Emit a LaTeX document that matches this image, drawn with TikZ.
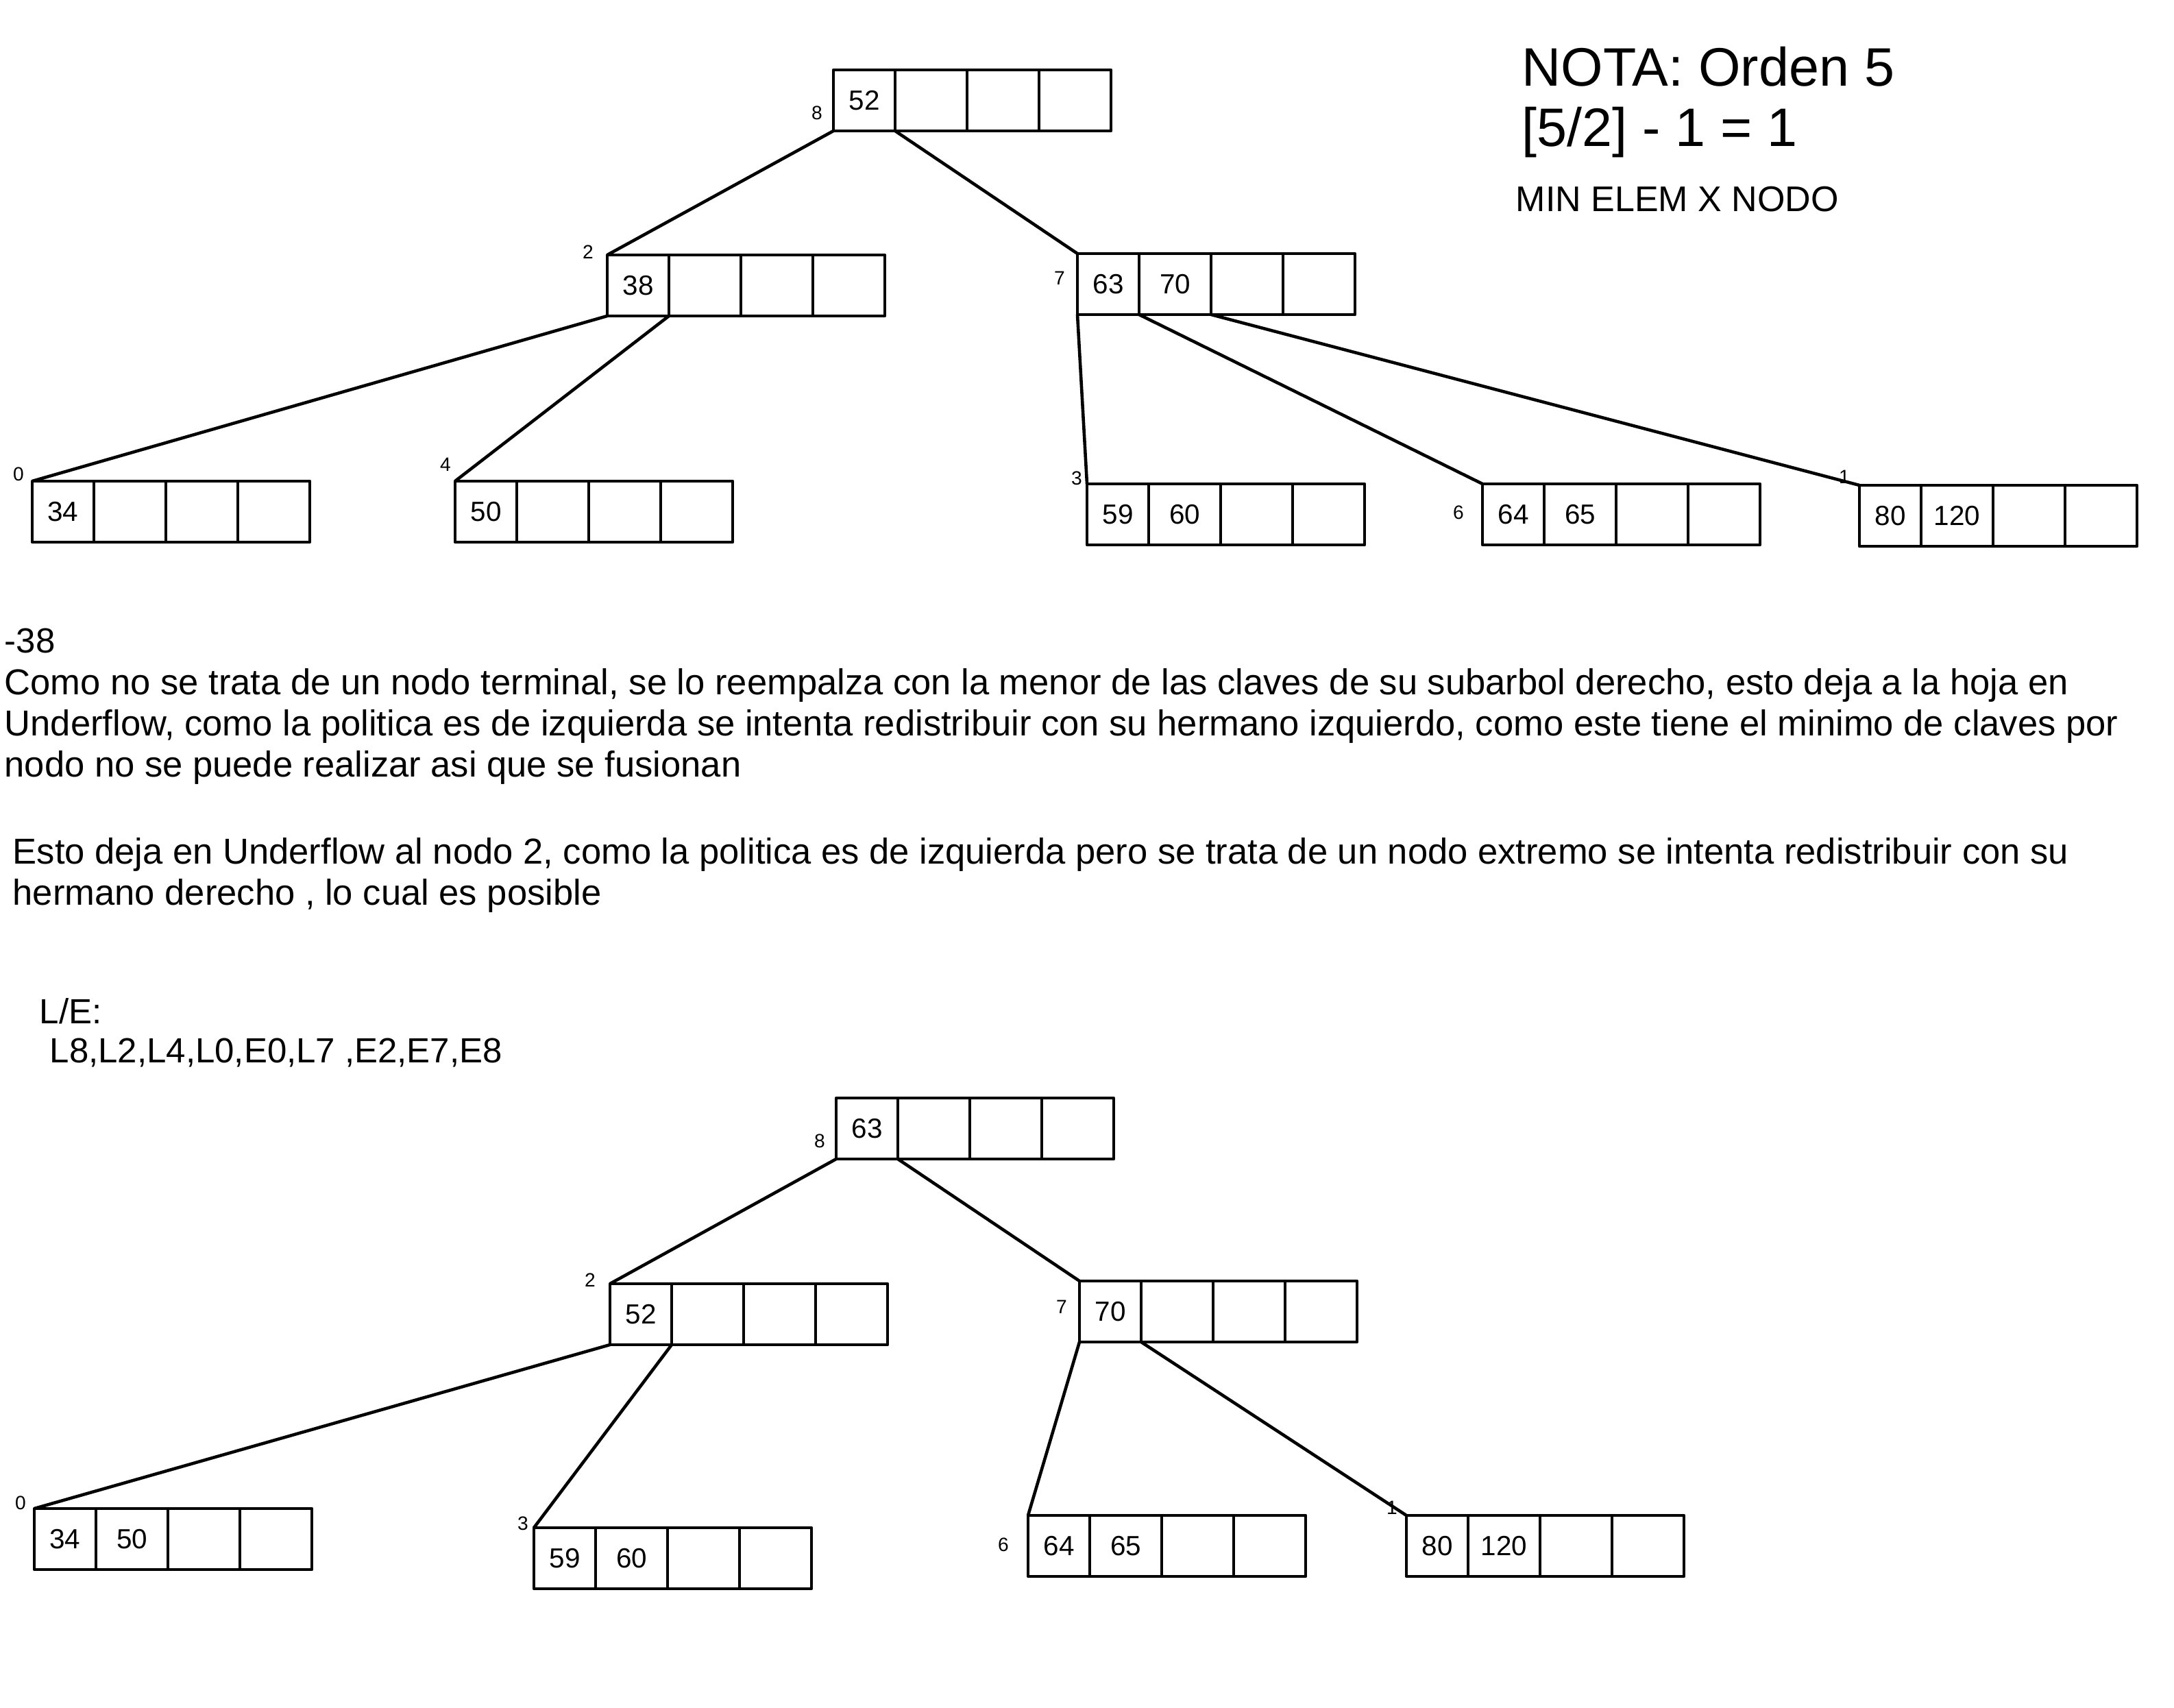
\documentclass[tikz,border=0pt]{standalone}
\usepackage{fontspec}
\setmainfont{Liberation Sans}
\usetikzlibrary{calc}
\usetikzlibrary{positioning}
\tikzset{celda/.style={draw,line width=1.3pt,minimum height=0.89cm,inner sep=0pt,outer sep=0pt,font=\fontsize{11.5}{13}\selectfont},
  etiq/.style={inner sep=0pt,font=\fontsize{8}{9}\selectfont},
  rama/.style={line width=1.3pt},
  texto/.style={anchor=base west,inner sep=0pt,font=\fontsize{14.5}{17.07}\selectfont},
  parrafo/.style={anchor=north west,align=left,inner sep=0pt,font=\fontsize{14.95}{17.07}\selectfont}}
% nodo del arbol B: nombre, esquina, desplazamiento de la etiqueta, etiqueta, claves
\newcommand{\bnodo}[6]{%
  \node[celda,minimum width=0.9cm,anchor=north west] (#1-1) at (#2) {#5};
  \node[celda,minimum width=1.05cm,right=0pt of #1-1] (#1-2) {#6};
  \node[celda,minimum width=1.05cm,right=0pt of #1-2] (#1-3) {};
  \node[celda,minimum width=1.05cm,right=0pt of #1-3] (#1-4) {};
  \node[etiq] (#1-n) at ($(#1-1.north west)+(#3)$) {#4};}

\begin{document}
\begin{tikzpicture}[x=1cm,y=-1cm,line join=round]
\useasboundingbox (0,0) rectangle (31.72,24.92);
% --- arbol antes de borrar 38
\bnodo{a8}{12.16,1.02}{-0.24,0.63}{8}{52}{}
\bnodo{a2}{8.86,3.72}{-0.28,-0.04}{2}{38}{}
\bnodo{a7}{15.72,3.70}{-0.26,0.36}{7}{63}{70}
\bnodo{a0}{0.47,7.02}{-0.20,-0.10}{0}{34}{}
\bnodo{a4}{6.64,7.02}{-0.14,-0.24}{4}{50}{}
\bnodo{a3}{15.86,7.06}{-0.15,-0.08}{3}{59}{60}
\bnodo{a6}{21.63,7.06}{-0.35,0.42}{6}{64}{65}
\bnodo{a1}{27.13,7.08}{-0.22,-0.12}{1}{80}{120}
\draw[rama] (a8-1.south west) -- (a2-1.north west);
\draw[rama] (a8-1.south east) -- (a7-1.north west);
\draw[rama] (a2-1.south west) -- (a0-1.north west);
\draw[rama] (a2-1.south east) -- (a4-1.north west);
\draw[rama] (a7-1.south west) -- (a3-1.north west);
\draw[rama] (a7-1.south east) -- (a6-1.north west);
\draw[rama] (a7-2.south east) -- (a1-1.north west);

\node[texto,font=\fontsize{22.5}{26}\selectfont] (nota) at (22.2,1.26) {NOTA: Orden 5};
\node[texto,font=\fontsize{22.5}{26}\selectfont] (minimo) at (22.2,2.14) {[5/2] - 1 = 1};
\node[texto,font=\fontsize{14.8}{17}\selectfont] (minelem) at (22.11,3.09) {MIN ELEM X NODO};

% --- explicacion
\node[texto] (clave) at (0.06,9.52) {-38};
\node[parrafo] (fusion) at (0.06,9.75) {Como no se trata de un nodo terminal, se lo reempalza con la menor de las claves de su subarbol derecho, esto deja a la hoja en\\
Underflow, como la politica es de izquierda se intenta redistribuir con su hermano izquierdo, como este tiene el minimo de claves por\\
nodo no se puede realizar asi que se fusionan};
\node[parrafo] (redist) at (0.18,12.22) {Esto deja en Underflow al nodo 2, como la politica es de izquierda pero se trata de un nodo extremo se intenta redistribuir con su\\
hermano derecho , lo cual es posible};
\node[texto] (le) at (0.57,14.93) {L/E:};
\node[texto] (lecturas) at (0.72,15.50) {L8,L2,L4,L0,E0,L7 ,E2,E7,E8};

% --- arbol despues de redistribuir
\bnodo{b8}{12.20,16.02}{-0.24,0.63}{8}{63}{}
\bnodo{b2}{8.90,18.73}{-0.29,-0.05}{2}{52}{}
\bnodo{b7}{15.75,18.69}{-0.26,0.38}{7}{70}{}
\bnodo{b0}{0.50,22.01}{-0.20,-0.08}{0}{34}{50}
\bnodo{b3}{7.79,22.29}{-0.16,-0.06}{3}{59}{60}
\bnodo{b6}{15.00,22.11}{-0.36,0.43}{6}{64}{65}
\bnodo{b1}{20.52,22.11}{-0.21,-0.11}{1}{80}{120}
\draw[rama] (b8-1.south west) -- (b2-1.north west);
\draw[rama] (b8-1.south east) -- (b7-1.north west);
\draw[rama] (b2-1.south west) -- (b0-1.north west);
\draw[rama] (b2-1.south east) -- (b3-1.north west);
\draw[rama] (b7-1.south west) -- (b6-1.north west);
\draw[rama] (b7-1.south east) -- (b1-1.north west);
\end{tikzpicture}
\end{document}
